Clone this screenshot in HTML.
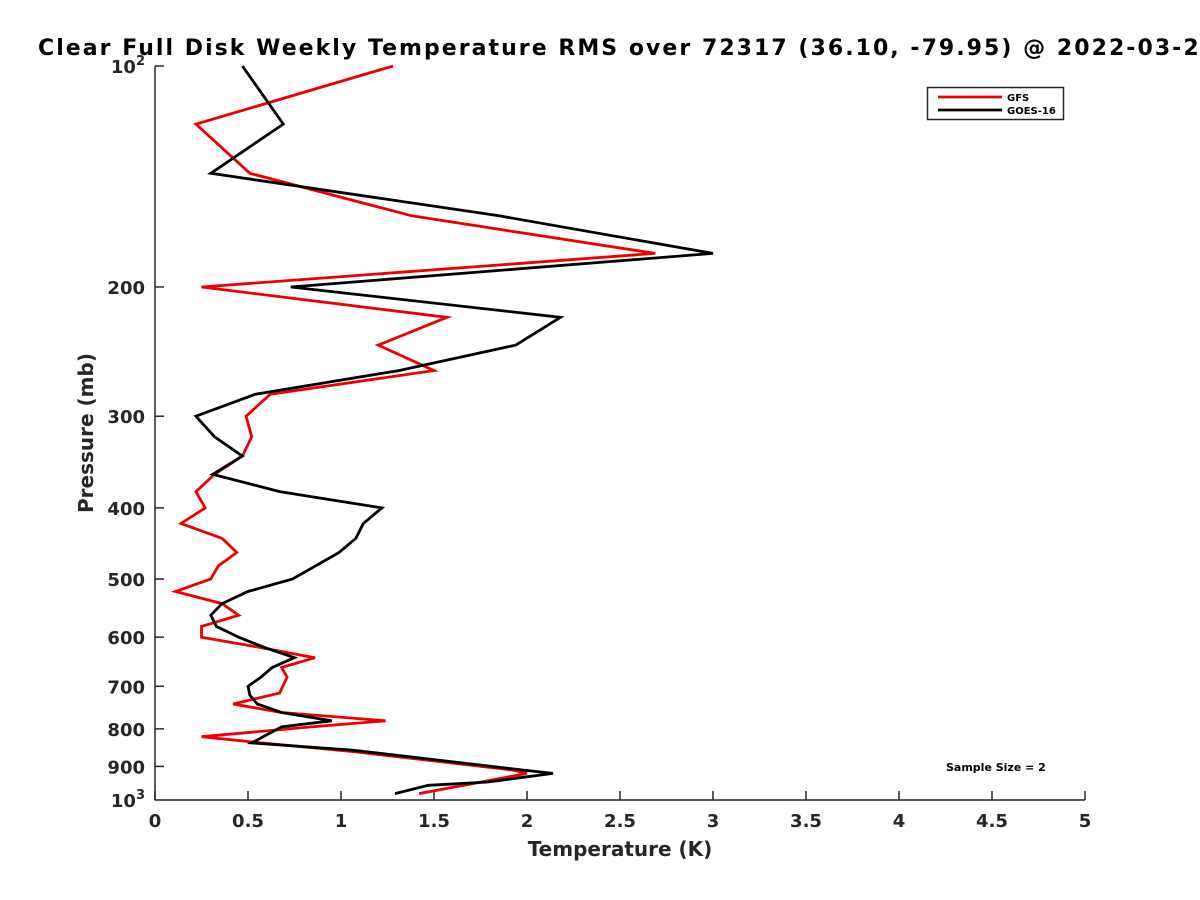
<!DOCTYPE html>
<html><head><meta charset="utf-8"><style>
body{margin:0;background:#fff;overflow:hidden;}
svg{display:block;font-family:"DejaVu Sans","Liberation Sans",sans-serif;}
</style></head><body>
<svg id="chart" width="1200" height="900" viewBox="0 0 1200 900">
<rect width="1200" height="900" fill="#fff"/>
<text x="38" y="55" font-size="22" font-weight="bold" fill="#000" textLength="1178" lengthAdjust="spacing">Clear Full Disk Weekly Temperature RMS over 72317 (36.10, -79.95) @ 2022-03-29</text>
<g id="axes"></g>
<g id="series"></g>
<text x="620" y="856" font-size="20" font-weight="bold" fill="#262626" text-anchor="middle">Temperature (K)</text>
<text transform="translate(93,433) rotate(-90)" font-size="20" font-weight="bold" fill="#262626" text-anchor="middle">Pressure (mb)</text>
<g>
<rect x="927.5" y="87.5" width="136" height="32" fill="#fff" stroke="#262626" stroke-width="1.5"/>
<line x1="938" y1="97" x2="1002" y2="97" stroke="#ee0000" stroke-width="2.8"/>
<text x="1007" y="101" font-size="10" font-weight="bold" fill="#000">GFS</text>
<line x1="938" y1="110" x2="1002" y2="110" stroke="#000" stroke-width="2.8"/>
<text x="1007" y="114" font-size="10" font-weight="bold" fill="#000">GOES-16</text>
</g>
<text x="946" y="771" font-size="11" font-weight="bold" fill="#000">Sample Size = 2</text>
</svg>
<script>
const xTicks = [0,0.5,1,1.5,2,2.5,3,3.5,4,4.5,5];
const xTickLabels = ["0","0.5","1","1.5","2","2.5","3","3.5","4","4.5","5"];
const yTicks = [200,300,400,500,600,700,800,900];
const gfsPressure = [100,120,140,160,180,200,220,240,260,280,300,320,340,360,380,400,420,440,460,480,500,520,540,560,580,600,620,640,660,680,715,740,760,780,795,820,835,860,910,920,960,980];
const gfsTemp = [1.28,0.22,0.51,1.38,2.69,0.25,1.57,1.20,1.50,0.62,0.49,0.52,0.47,0.32,0.22,0.27,0.14,0.36,0.44,0.34,0.30,0.11,0.36,0.45,0.25,0.25,0.57,0.86,0.68,0.71,0.67,0.42,0.68,1.24,0.84,0.25,0.55,1.08,1.92,2.0,1.61,1.42];
const goesPressure = [100,120,140,160,180,200,220,240,260,280,300,320,340,360,380,400,420,440,460,500,520,540,560,580,600,620,640,660,680,700,720,740,760,780,795,836,855,910,920,945,955,980];
const goesTemp = [0.47,0.69,0.30,1.85,3.0,0.73,2.18,1.94,1.31,0.54,0.22,0.32,0.47,0.31,0.67,1.22,1.12,1.08,0.99,0.74,0.50,0.36,0.30,0.33,0.45,0.59,0.75,0.63,0.57,0.50,0.51,0.55,0.68,0.95,0.68,0.52,1.06,1.97,2.14,1.79,1.47,1.29];

const NS="http://www.w3.org/2000/svg";
const X0=155,X1=1085,Y0=66,Y1=800;
function xs(v){return X0+(v-0)/(5-0)*(X1-X0);}
function ys(p){return Y0+(Math.log10(p)-2)*(Y1-Y0);}
function mk(tag,attrs,parent){const e=document.createElementNS(NS,tag);for(const k in attrs)e.setAttribute(k,attrs[k]);parent.appendChild(e);return e;}
const axes=document.getElementById('axes');
const c='#262626';
let a=mk('line',{x1:X0,y1:Y0,x2:X0,y2:Y1+0.5,stroke:c,'stroke-width':1.5},axes);


a=mk('line',{x1:X0,y1:Y1,x2:X1,y2:Y1,stroke:c,'stroke-width':1.5},axes);


xTicks.forEach((v,i)=>{
  const x=xs(v);
  mk('line',{x1:x,y1:Y1,x2:x,y2:Y1-9,stroke:c,'stroke-width':1.5},axes);
  const t=mk('text',{x:x,y:Y1+27,'font-size':18,'font-weight':'bold',fill:c,'text-anchor':'middle'},axes);
  t.textContent=xTickLabels[i];
  
  
});
function ylab(y,txt,sup){
  const t=mk('text',{x:X0-10,y:y+7,'font-size':18,'font-weight':'bold',fill:c,'text-anchor':'end'},axes);
  
  
  if(sup){t.textContent=txt;const s=mk('tspan',{'font-size':13,dy:-8},t);s.textContent=sup;}
  else t.textContent=txt;
}
mk('line',{x1:X0,y1:Y0,x2:X0+9,y2:Y0,stroke:c,'stroke-width':1.5},axes);
ylab(Y0,'10','2');
ylab(Y1,'10','3');
yTicks.forEach(p=>{const y=ys(p);mk('line',{x1:X0,y1:y,x2:X0+9,y2:y,stroke:c,'stroke-width':1.5},axes);ylab(y,String(p));});
const series=document.getElementById('series');
function line(P,T,color,name){
  const pts=P.map((p,i)=>xs(T[i]).toFixed(1)+','+ys(p).toFixed(1)).join(' ');
  const l=mk('polyline',{points:pts,fill:'none',stroke:color,'stroke-width':2.8,'stroke-linejoin':'miter'},series);
  
  
}
line(gfsPressure,gfsTemp,'#ee0000','gfs-line');
line(goesPressure,goesTemp,'#000','goes16-line');
</script>
</body></html>
